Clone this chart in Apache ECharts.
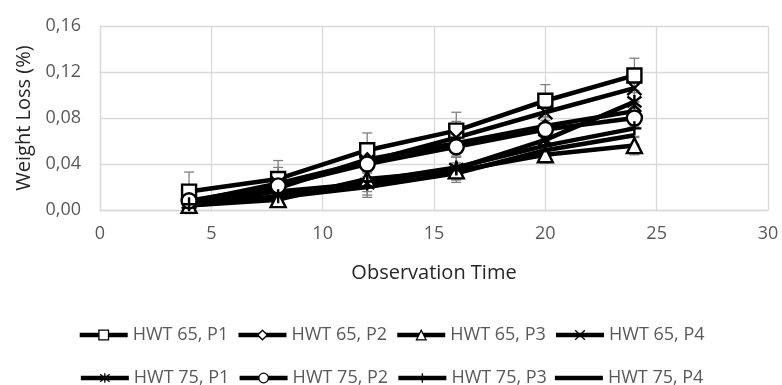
<!DOCTYPE html>
<html>
<head>
<meta charset="utf-8">
<script src="https://cdn.jsdelivr.net/npm/echarts@6/dist/echarts.min.js"></script>
<style>
html,body{margin:0;padding:0;background:#fff;}
#chart{width:782px;height:385px;}
</style>
</head>
<body>
<div id="chart"></div>
<script>
// ---- data ----
const timePoints = [4, 8, 12, 16, 20, 24];
const seriesNames = ['HWT 65, P1', 'HWT 65, P2', 'HWT 65, P3', 'HWT 65, P4',
                     'HWT 75, P1', 'HWT 75, P2', 'HWT 75, P3', 'HWT 75, P4'];
const hwt65p1 = [0.016, 0.027, 0.052, 0.069, 0.095, 0.117];
const hwt65p2 = [0.006, 0.019, 0.044, 0.058, 0.073, 0.086];
const hwt65p3 = [0.004, 0.009, 0.027, 0.034, 0.048, 0.056];
const hwt65p4 = [0.007, 0.023, 0.042, 0.063, 0.085, 0.106];
const hwt75p1 = [0.006, 0.016, 0.023, 0.036, 0.061, 0.094];
const hwt75p2 = [0.008, 0.021, 0.040, 0.055, 0.070, 0.080];
const hwt75p3 = [0.005, 0.012, 0.025, 0.037, 0.056, 0.071];
const hwt75p4 = [0.004, 0.011, 0.020, 0.032, 0.052, 0.065];
const err65p1 = [0.017, 0.016, 0.015, 0.016, 0.014, 0.015];
const err65p2 = [0.008, 0.008, 0.008, 0.008, 0.008, 0.008];
const err65p3 = [0.006, 0.006, 0.007, 0.007, 0.007, 0.008];
const err65p4 = [0.010, 0.014, 0.015, 0.014, 0.012, 0.012];
const err75p1 = [0.008, 0.008, 0.010, 0.010, 0.010, 0.010];
const err75p2 = [0.008, 0.008, 0.008, 0.008, 0.008, 0.008];
const err75p3 = [0.007, 0.007, 0.009, 0.009, 0.008, 0.008];
const err75p4 = [0.007, 0.007, 0.009, 0.008, 0.008, 0.008];
const yTicks = [0, 0.04, 0.08, 0.12, 0.16];
const xTicks = [0, 5, 10, 15, 20, 25, 30];

const allValues = [hwt65p1, hwt65p2, hwt65p3, hwt65p4, hwt75p1, hwt75p2, hwt75p3, hwt75p4];
const allErrors = [err65p1, err65p2, err65p3, err65p4, err75p1, err75p2, err75p3, err75p4];

const symbols = [
  'rect', 'diamond', 'triangle',
  'path://M0,0L10,10M10,0L0,10',
  'path://M0,0L10,10M10,0L0,10M5,-1.5L5,11.5',
  'circle',
  'path://M5,0L5,10M0,5L10,5',
  'none'
];
const symbolSizes = [14, 12, 15, 14, 14, 15, 14, 0];

const FONT = '"Open Sans", "Noto Sans", sans-serif';

const series = [];
// error bars first (underneath)
allValues.forEach((vals, i) => {
  series.push({
    name: 'err' + i,
    type: 'custom',
    z: 1,
    silent: true,
    data: timePoints.map((t, k) => [t, vals[k] - allErrors[i][k], vals[k] + allErrors[i][k]]),
    renderItem: function (params, api) {
      const x = api.value(0);
      const lo = api.coord([x, api.value(1)]);
      const hi = api.coord([x, api.value(2)]);
      const cw = 5;
      const st = { stroke: '#808080', lineWidth: 1.3 };
      return {
        type: 'group',
        children: [
          { type: 'line', shape: { x1: lo[0], y1: lo[1], x2: hi[0], y2: hi[1] }, style: st },
          { type: 'line', shape: { x1: hi[0] - cw, y1: hi[1], x2: hi[0] + cw, y2: hi[1] }, style: st },
          { type: 'line', shape: { x1: lo[0] - cw, y1: lo[1], x2: lo[0] + cw, y2: lo[1] }, style: st }
        ]
      };
    }
  });
});
allValues.forEach((vals, i) => {
  series.push({
    name: seriesNames[i],
    type: 'line',
    z: 3,
    data: timePoints.map((t, k) => [t, vals[k]]),
    symbol: symbols[i],
    symbolSize: symbolSizes[i],
    showSymbol: symbols[i] !== 'none',
    lineStyle: { color: '#000', width: 4.5 },
    itemStyle: { color: '#fff', borderColor: '#000', borderWidth: 2.4 },
    emphasis: { disabled: true },
    animation: false
  });
});

function legendData(names) {
  return names.map(n => {
    if (symbols[seriesNames.indexOf(n)] === 'none') {
      return { name: n, icon: 'path://M0,0L48,0L48,4.5L0,4.5Z', itemStyle: { color: '#000', borderWidth: 0 } };
    }
    return { name: n };
  });
}

const legendCommon = {
  left: 'center',
  orient: 'horizontal',
  itemWidth: 48,
  itemHeight: 12,
  itemGap: 8,
  padding: 0,
  selectedMode: false,
  lineStyle: { width: 4.5, color: '#000' },
  itemStyle: { borderWidth: 1.3 },
  textStyle: { fontFamily: FONT, fontSize: 18, color: '#595959', padding: [0, 0, 0, 0] }
};

const chart = echarts.init(document.getElementById('chart'), null, { renderer: 'canvas' });
chart.setOption({
  animation: false,
  backgroundColor: '#fff',
  grid: { left: 100, right: 14, top: 26, height: 184, containLabel: false },
  legend: [
    Object.assign({ top: 326, data: legendData(seriesNames.slice(0, 4)) }, legendCommon),
    Object.assign({ top: 369, data: legendData(seriesNames.slice(4, 8)) }, legendCommon)
  ],
  xAxis: {
    type: 'value',
    min: xTicks[0],
    max: xTicks[xTicks.length - 1],
    interval: 5,
    name: 'Observation Time',
    nameLocation: 'middle',
    nameGap: 53,
    nameTextStyle: { fontFamily: FONT, fontSize: 20, color: '#262626' },
    axisLine: { show: true, lineStyle: { color: '#d9d9d9', width: 1.3 } },
    axisTick: { show: false },
    axisLabel: { fontFamily: FONT, fontSize: 18, color: '#595959', margin: 15 },
    splitLine: { show: true, lineStyle: { color: '#d9d9d9', width: 1.3 } }
  },
  yAxis: {
    type: 'value',
    min: yTicks[0],
    max: yTicks[yTicks.length - 1],
    interval: 0.04,
    name: 'Weight Loss (%)',
    nameLocation: 'middle',
    nameGap: 66,
    nameTextStyle: { fontFamily: FONT, fontSize: 20, color: '#262626' },
    axisLine: { show: true, lineStyle: { color: '#d9d9d9', width: 1.3 } },
    axisTick: { show: false },
    axisLabel: {
      fontFamily: FONT, fontSize: 18, color: '#595959', margin: 19,
      formatter: v => v.toFixed(2).replace('.', ',')
    },
    splitLine: { show: true, lineStyle: { color: '#d9d9d9', width: 1.3 } }
  },
  series: series
});
</script>
</body>
</html>
